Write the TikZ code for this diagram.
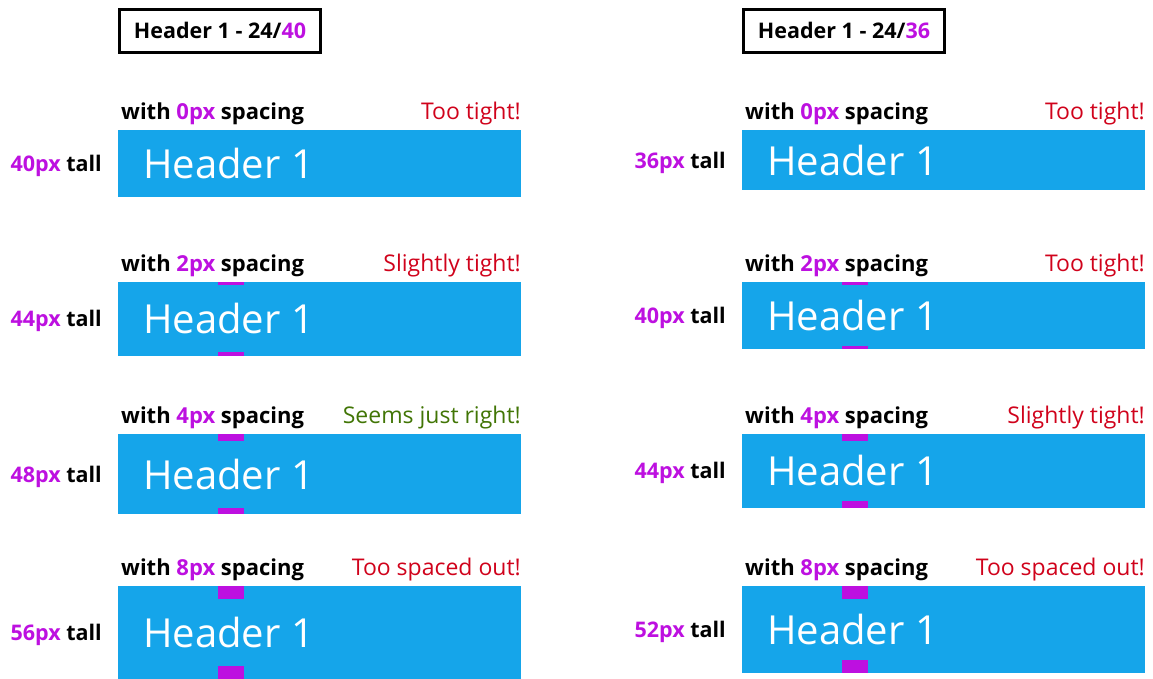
\documentclass[tikz,border=0pt]{standalone}
\usepackage{fontspec}
\setmainfont{Open Sans}
\definecolor{hblue}{HTML}{15A5EA}
\definecolor{hmag}{HTML}{BD10E0}
\definecolor{hred}{HTML}{D0021B}
\definecolor{hgreen}{HTML}{417505}
\tikzset{
  hbox/.style={fill=hblue, draw=none, minimum width=403pt, inner sep=0pt, outer sep=0pt},
  htext/.style={text=white, inner sep=0pt, font=\fontsize{40}{48}\selectfont},
  lbl/.style={inner sep=0pt, font=\fontsize{23}{27}\selectfont},
  blbl/.style={inner sep=0pt, font=\bfseries\fontsize{22}{26}\selectfont},
  tlbl/.style={inner sep=0pt, font=\bfseries\fontsize{21.5}{26}\selectfont},
  titlebox/.style={draw=black, line width=3pt, minimum width=201pt, minimum height=43pt, inner sep=0pt, font=\bfseries\fontsize{21.5}{25}\selectfont},
  marker/.style={fill=hmag}
}
% #1 name, #2 x left, #3 y top, #4 spacing px, #5 tall px, #6 verdict colour, #7 verdict text
\newcommand\hrow[7]{%
  \pgfmathsetmacro\rowh{#5*1.675}%
  \pgfmathsetmacro\mkh{#4*1.675}%
  \node[hbox, minimum height=\rowh pt, anchor=north west] (#1box) at (#2,#3) {};
  \node[htext, anchor=base west] (#1txt) at ([xshift=25pt,yshift=-15pt]#1box.west) {Header 1};
  \node[blbl, anchor=base west] (#1sp) at ([xshift=3pt,yshift=11pt]#1box.north west) {with \textcolor{hmag}{#4px} spacing};
  \node[lbl, anchor=base east, text=#6] (#1vd) at ([yshift=11pt]#1box.north east) {#7};
  \node[tlbl, anchor=base east] (#1tl) at ([xshift=-16pt,yshift=-8pt]#1box.west) {\textcolor{hmag}{#5px} tall};
  \ifnum#4>0
    \fill[marker] ([xshift=100pt]#1box.north west) rectangle ([xshift=126pt,yshift=-\mkh pt]#1box.north west);
    \fill[marker] ([xshift=100pt]#1box.south west) rectangle ([xshift=126pt,yshift=\mkh pt]#1box.south west);
  \fi
}
\begin{document}
\begin{tikzpicture}[x=1pt,y=-1pt]
  \useasboundingbox (0,0) rectangle (1153,678);
  \node[titlebox] (tleft) at (220,30.5) {\raisebox{-1.5pt}{Header 1 - 24/\textcolor{hmag}{40}}};
  \node[titlebox] (tright) at (844,30.5) {\raisebox{-1.5pt}{Header 1 - 24/\textcolor{hmag}{36}}};
  \begin{scope}
    \clip (0,0) rectangle (1153,678);
    \hrow{la}{118}{130}{0}{40}{hred}{Too tight!}
    \hrow{lb}{118}{282}{2}{44}{hred}{Slightly tight!}
    \hrow{lc}{118}{434}{4}{48}{hgreen}{Seems just right!}
    \hrow{ld}{118}{586}{8}{56}{hred}{Too spaced out!}
    \hrow{ra}{742}{130}{0}{36}{hred}{Too tight!}
    \hrow{rb}{742}{282}{2}{40}{hred}{Too tight!}
    \hrow{rc}{742}{434}{4}{44}{hred}{Slightly tight!}
    \hrow{rd}{742}{586}{8}{52}{hred}{Too spaced out!}
  \end{scope}
\end{tikzpicture}
\end{document}
